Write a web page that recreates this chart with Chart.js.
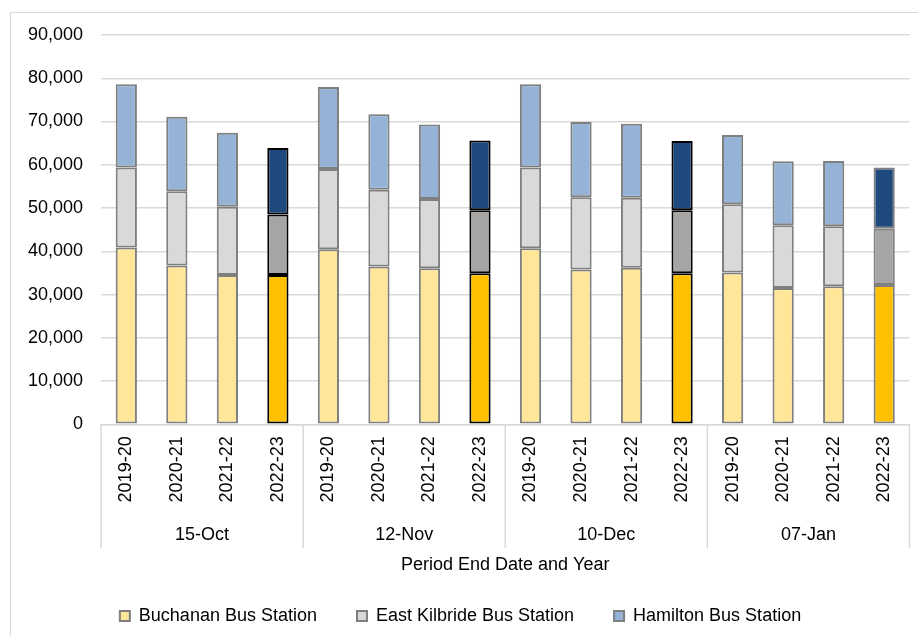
<!DOCTYPE html>
<html>
<head>
<meta charset="utf-8">
<script src="https://cdn.jsdelivr.net/npm/chart.js@4.4.0/dist/chart.umd.min.js"></script>
<style>
  html, body { margin: 0; padding: 0; background: #fff; }
  #frame { position: absolute; left: 10px; top: 12px; width: 920px; height: 640px; border: 1px solid #d9d9d9; }
  #wrap { position: absolute; left: 0; top: 0; width: 918px; height: 636px; }
</style>
</head>
<body>
<div id="frame"></div>
<div id="wrap"><canvas id="chart"></canvas></div>
<script>
// period groups and the years inside each one
const periods = ["15-Oct", "12-Nov", "10-Dec", "07-Jan"];
const years = ["2019-20", "2020-21", "2021-22", "2022-23"];

// one value per bar, period by period
const buchanan = [40900, 36700, 34500, 34500, 40500, 36500, 36100, 34900, 40700, 35800, 36200, 34900, 35100, 31500, 31900, 32200];
const eastKilbride = [18500, 17200, 15800, 14000, 18500, 17700, 16000, 14600, 18700, 16700, 16200, 14600, 15800, 14500, 13900, 13000];
const hamilton = [19200, 17200, 17100, 15400, 19000, 17500, 17200, 16100, 19200, 17400, 17100, 16000, 16000, 14800, 15100, 14200];

const yTicks = [0, 10000, 20000, 30000, 40000, 50000, 60000, 70000, 80000, 90000];

const labels = [];
periods.forEach(() => years.forEach((y) => labels.push(y)));

const current = years[years.length - 1];
const isCurrent = (i) => labels[i] === current;
// the latest period's current bar keeps a grey outline
const outline = labels.map((l, i) =>
  isCurrent(i) && Math.floor(i / years.length) < periods.length - 1 ? "#000000" : "#7f7f7f"
);
const fill = (light, dark) => labels.map((l, i) => (isCurrent(i) ? dark : light));

const groupLabels = {
  id: "groupLabels",
  afterDraw(chart) {
    const { ctx, chartArea } = chart;
    const x = chart.scales.x;
    const step = x.getPixelForValue(1) - x.getPixelForValue(0);
    ctx.save();
    ctx.strokeStyle = "#d9d9d9";
    ctx.lineWidth = 1.5;
    ctx.fillStyle = "#000";
    ctx.font = '18px "Liberation Sans", Arial, sans-serif';
    ctx.textAlign = "center";
    ctx.textBaseline = "middle";
    periods.forEach((p, g) => {
      const left = x.getPixelForValue(g * years.length) - step / 2;
      const right = x.getPixelForValue(g * years.length + years.length - 1) + step / 2;
      ctx.beginPath();
      ctx.moveTo(left, chartArea.bottom);
      ctx.lineTo(left, chartArea.bottom + 124);
      ctx.stroke();
      if (g === periods.length - 1) {
        ctx.beginPath();
        ctx.moveTo(right, chartArea.bottom);
        ctx.lineTo(right, chartArea.bottom + 124);
        ctx.stroke();
      }
      ctx.fillText(p, (left + right) / 2, chartArea.bottom + 111);
    });
    ctx.restore();
  },
};

Chart.defaults.font.family = '"Liberation Sans", Arial, sans-serif';
Chart.defaults.font.size = 18;
Chart.defaults.color = "#000";

new Chart(document.getElementById("chart"), {
  type: "bar",
  data: {
    labels: labels,
    datasets: [
      {
        label: "Buchanan Bus Station",
        data: buchanan,
        backgroundColor: fill("#FFE699", "#FFC000"),
        borderColor: outline,
      },
      {
        label: "East Kilbride Bus Station",
        data: eastKilbride,
        backgroundColor: fill("#D9D9D9", "#A5A5A5"),
        borderColor: outline,
      },
      {
        label: "Hamilton Bus Station",
        data: hamilton,
        backgroundColor: fill("#95B3D7", "#1F497D"),
        borderColor: outline,
      },
    ],
  },
  options: {
    responsive: true,
    maintainAspectRatio: false,
    animation: false,
    layout: { padding: { left: 10, right: 7, top: 35, bottom: 1 } },
    datasets: {
      bar: { borderWidth: 2, borderSkipped: false, categoryPercentage: 1, barPercentage: 0.42 },
    },
    scales: {
      x: {
        stacked: true,
        grid: { display: false, drawTicks: false },
        border: { display: true, color: "#d9d9d9", width: 1.5 },
        ticks: { minRotation: 90, maxRotation: 90, padding: 12 },
        title: { display: true, text: "Period End Date and Year", padding: { top: 40, bottom: -9 } },
      },
      y: {
        stacked: true,
        min: 0,
        max: 90000,
        afterBuildTicks: (axis) => { axis.ticks = yTicks.map((v) => ({ value: v })); },
        grid: { color: "#d9d9d9", lineWidth: 1.5, drawTicks: false },
        border: { display: false },
        ticks: { padding: 18, callback: (v) => v.toLocaleString("en-US") },
      },
    },
    plugins: {
      legend: {
        position: "bottom",
        labels: { boxWidth: 10, boxHeight: 10, padding: 40 },
      },
      tooltip: { enabled: false },
    },
  },
  plugins: [groupLabels],
});
</script>
</body>
</html>
